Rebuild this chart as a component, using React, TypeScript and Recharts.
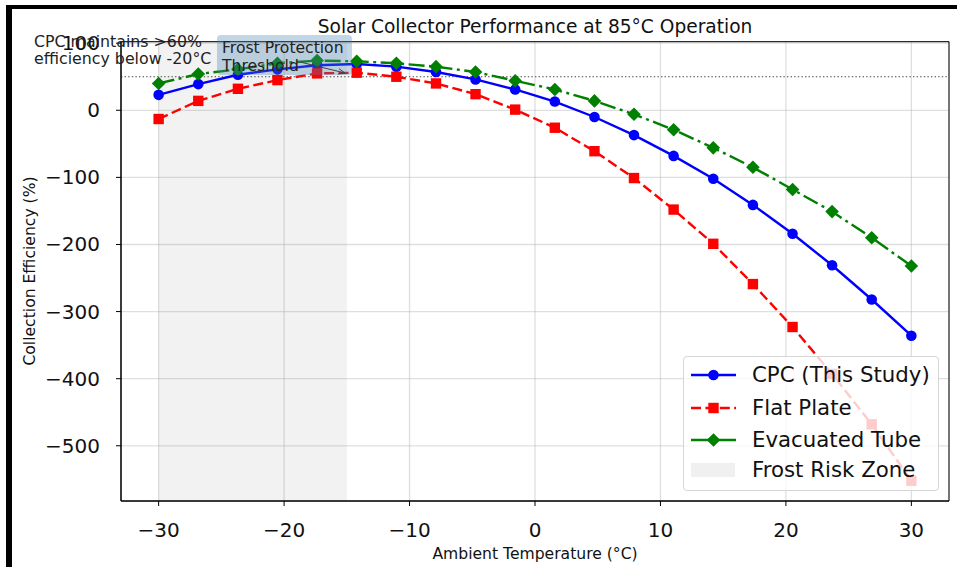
import React from "react";
import {
  LineChart,
  Line,
  XAxis,
  YAxis,
  CartesianGrid,
  ReferenceArea,
  ReferenceLine,
} from "recharts";

// ambient temperatures (°C) — 20 evenly spaced readings
const TEMPS = [-30, -26.84, -23.68, -20.53, -17.37, -14.21, -11.05, -7.89, -4.74, -1.58, 1.58, 4.74, 7.89, 11.05, 14.21, 17.37, 20.53, 23.68, 26.84, 30];
const CPC = [23, 39, 53, 61, 67, 69, 65, 57, 46, 31, 13, -10, -37, -68, -102, -141, -184, -231, -282, -336];
const FLAT = [-13, 14, 32, 45, 55, 56, 50, 40, 24, 1, -26, -61, -101, -148, -199, -259, -323, -393, -468, -552];
const EVAC = [40, 54, 61, 70, 74, 73, 70, 65, 57, 44, 31, 14, -6, -29, -56, -85, -118, -151, -190, -232];

const X_TICKS = [-30, -20, -10, 0, 10, 20, 30];
const Y_TICKS = [-500, -400, -300, -200, -100, 0, 100];
const X_DOMAIN = [-33, 33];
const Y_DOMAIN = [-582.3, 102.2];
const FROST_ZONE = [-30, -15];
const THRESHOLD = 50;

const FONT = "'DejaVu Sans', 'Liberation Sans', sans-serif";
const BLUE = "#0000ff";
const RED = "#ff0000";
const GREEN = "#008000";
const RED_DASH = "10 4.4";
const GREEN_DASH = "16 4.5 3 4.5";
const LW = 2.4;

const data = TEMPS.map((t, i) => ({ t, cpc: CPC[i], flat: FLAT[i], evac: EVAC[i] }));

const fmt = (v: number) => (v < 0 ? `\u2212${Math.abs(v)}` : `${v}`);

const circleDot = (p: any) => <circle key={`c${p.index}`} cx={p.cx} cy={p.cy} r={5.3} fill={BLUE} />;
const squareDot = (p: any) => <rect key={`s${p.index}`} x={p.cx - 5.2} y={p.cy - 5.2} width={10.4} height={10.4} fill={RED} />;
const diamondDot = (p: any) => (
  <polygon
    key={`d${p.index}`}
    points={`${p.cx},${p.cy - 6.8} ${p.cx + 6.8},${p.cy} ${p.cx},${p.cy + 6.8} ${p.cx - 6.8},${p.cy}`}
    fill={GREEN}
  />
);

const XTick = ({ x, y, payload }: any) => (
  <text x={x} y={y + 22} textAnchor="middle" dominantBaseline="central" fontSize={20} fontFamily={FONT} fill="#111">
    {fmt(payload.value)}
  </text>
);

const YTick = ({ x, y, payload }: any) => (
  <text x={x - 14} y={y} textAnchor="end" dominantBaseline="central" fontSize={20} fontFamily={FONT} fill="#111">
    {fmt(payload.value)}
  </text>
);

function LegendRow({ top, label, children }: { top: number; label: string; children: React.ReactNode }) {
  return (
    <div style={{ position: "absolute", left: 0, top: top - 16, height: 32, width: "100%" }}>
      <svg width={52} height={32} style={{ position: "absolute", left: 0, top: 0 }}>
        {children}
      </svg>
      <span style={{ position: "absolute", left: 68, top: 0, lineHeight: "32px", fontSize: 21.3, fontFamily: FONT, color: "#111", whiteSpace: "nowrap" }}>
        {label}
      </span>
    </div>
  );
}

function ChartLegend() {
  return (
    <div
      style={{
        position: "absolute",
        left: 683,
        top: 356,
        width: 256,
        height: 135,
        background: "rgba(255,255,255,0.8)",
        border: "1px solid #d6d6d6",
        borderRadius: 4,
        boxSizing: "border-box",
      }}
    >
      <LegendRow top={18} label="CPC (This Study)">
        <line x1={7} x2={52} y1={16} y2={16} stroke={BLUE} strokeWidth={LW} />
        <circle cx={29.5} cy={16} r={5.3} fill={BLUE} />
      </LegendRow>
      <LegendRow top={50.5} label="Flat Plate">
        <line x1={7} x2={52} y1={16} y2={16} stroke={RED} strokeWidth={LW} strokeDasharray={RED_DASH} />
        <rect x={24.3} y={10.8} width={10.4} height={10.4} fill={RED} />
      </LegendRow>
      <LegendRow top={82.5} label="Evacuated Tube">
        <line x1={7} x2={52} y1={16} y2={16} stroke={GREEN} strokeWidth={LW} />
        <polygon points="29.5,9.2 36.3,16 29.5,22.8 22.7,16" fill={GREEN} />
      </LegendRow>
      <LegendRow top={113} label="Frost Risk Zone">
        <rect x={7} y={9} width={44} height={14} fill="#808080" fillOpacity={0.12} />
      </LegendRow>
    </div>
  );
}

export default function App() {
  return (
    <div style={{ position: "absolute", left: 0, top: 0, width: 957, height: 567, background: "#fff", overflow: "hidden" }}>
      <LineChart
        width={957}
        height={567}
        data={data}
        margin={{ top: 41.7, right: 8, bottom: 36, left: 61 }}
        style={{ position: "absolute", left: 0, top: 0 }}
      >
        <CartesianGrid stroke="#b0b0b0" strokeOpacity={0.4} strokeWidth={1.3} />
        <ReferenceArea x1={FROST_ZONE[0]} x2={FROST_ZONE[1]} fill="#808080" fillOpacity={0.1} stroke="none" />
        <XAxis
          dataKey="t"
          type="number"
          domain={X_DOMAIN}
          ticks={X_TICKS}
          allowDataOverflow
          height={30}
          tickSize={5}
          axisLine={{ stroke: "#000", strokeWidth: 1 }}
          tickLine={{ stroke: "#000", strokeWidth: 1 }}
          tick={<XTick />}
        />
        <YAxis
          type="number"
          domain={Y_DOMAIN}
          ticks={Y_TICKS}
          allowDataOverflow
          width={60}
          tickSize={5}
          axisLine={{ stroke: "#000", strokeWidth: 1 }}
          tickLine={{ stroke: "#000", strokeWidth: 1 }}
          tick={<YTick />}
        />
        <ReferenceLine y={THRESHOLD} stroke="#444" strokeWidth={1.1} strokeDasharray="1.4 2.2" />
        <Line dataKey="cpc" stroke={BLUE} strokeWidth={LW} dot={circleDot} isAnimationActive={false} />
        <Line dataKey="flat" stroke={RED} strokeWidth={LW} strokeDasharray={RED_DASH} dot={squareDot} isAnimationActive={false} />
        <Line dataKey="evac" stroke={GREEN} strokeWidth={LW} strokeDasharray={GREEN_DASH} dot={diamondDot} isAnimationActive={false} />
        <ReferenceArea x1={X_DOMAIN[0]} x2={X_DOMAIN[1]} y1={Y_DOMAIN[0]} y2={Y_DOMAIN[1]} fill="none" stroke="#000" strokeWidth={1} />
      </LineChart>

      <svg width={957} height={567} style={{ position: "absolute", left: 0, top: 0, pointerEvents: "none" }}>
        <defs>
          <marker id="arr" viewBox="0 0 10 10" refX="10" refY="5" markerWidth="7" markerHeight="7" orient="auto">
            <path d="M0,1 L10,5 L0,9" fill="none" stroke="#444" strokeWidth={1.3} />
          </marker>
        </defs>
        <text x={535} y={33} textAnchor="middle" fontSize={18.6} fontFamily={FONT} fill="#111">
          Solar Collector Performance at 85°C Operation
        </text>
        <text x={535} y={559} textAnchor="middle" fontSize={15.6} fontFamily={FONT} fill="#111">
          Ambient Temperature (°C)
        </text>
        <text transform="translate(35,271) rotate(-90)" textAnchor="middle" fontSize={15.6} fontFamily={FONT} fill="#111">
          Collection Efficiency (%)
        </text>

        <rect x={217} y={35} width={135} height={40} rx={4} fill="#4682b4" fillOpacity={0.33} />
        <line x1={300} y1={62} x2={345} y2={73} stroke="#444" strokeWidth={1} markerEnd="url(#arr)" />
        <text x={222} y={53.3} fontSize={15.6} fontFamily={FONT} fill="#222">Frost Protection</text>
        <text x={222} y={70.7} fontSize={15.6} fontFamily={FONT} fill="#222">Threshold</text>

        <text x={34} y={46.5} fontSize={15.8} fontFamily={FONT} fill="#222">CPC maintains &gt;60%</text>
        <text x={34} y={64} fontSize={15.8} fontFamily={FONT} fill="#222">efficiency below -20°C</text>
      </svg>

      <ChartLegend />

      <div style={{ position: "absolute", left: 6, top: 5, width: 951, height: 4, background: "#000" }} />
      <div style={{ position: "absolute", left: 6, top: 5, width: 6, height: 562, background: "#000" }} />
    </div>
  );
}
